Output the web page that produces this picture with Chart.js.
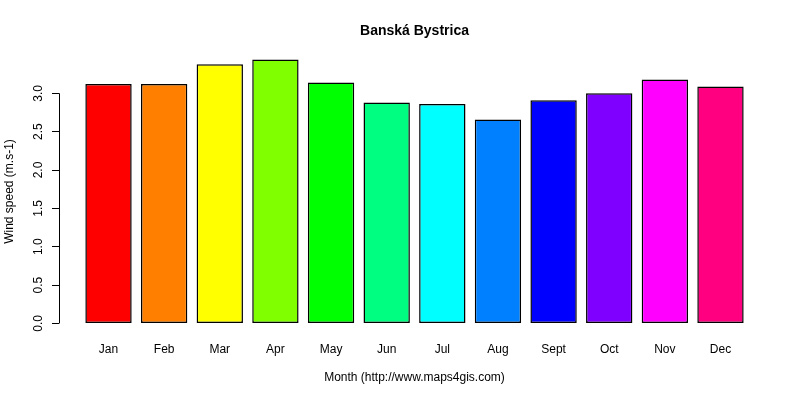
<!DOCTYPE html>
<html>
<head>
<meta charset="utf-8">
<script src="https://cdn.jsdelivr.net/npm/chart.js@4/dist/chart.umd.min.js"></script>
<style>
  html, body { margin: 0; padding: 0; background: #fff; }
  #wrap { width: 800px; height: 400px; }
</style>
</head>
<body>
<div id="wrap"><canvas id="windChart"></canvas></div>
<script>
const months = ['Jan', 'Feb', 'Mar', 'Apr', 'May', 'Jun', 'Jul', 'Aug', 'Sept', 'Oct', 'Nov', 'Dec'];
const windSpeed = [3.12, 3.12, 3.38, 3.44, 3.14, 2.88, 2.86, 2.66, 2.91, 3.00, 3.18, 3.09];
const barColors = ['#FF0000', '#FF8000', '#FFFF00', '#80FF00', '#00FF00', '#00FF80',
  '#00FFFF', '#0080FF', '#0000FF', '#8000FF', '#FF00FF', '#FF0080'];
const yTicks = [0, 0.5, 1, 1.5, 2, 2.5, 3];

// R barplot layout: bar width 1, gap 0.2, axes extended by 4%
const barCenters = months.map((m, i) => 0.7 + 1.2 * i);
const xSpan = 1.2 * months.length;
const xMin = 0.2 - 0.04 * (xSpan - 0.2);
const xMax = xSpan + 0.04 * (xSpan - 0.2);
const yTop = Math.max(...windSpeed);
const yMin = -0.04 * yTop;
const yMax = yTop * 1.04;

const font = 'Liberation Sans, Arial, sans-serif';

const rAxes = {
  id: 'rAxes',
  afterDraw(chart) {
    const ctx = chart.ctx;
    const y = chart.scales.y;
    const area = chart.chartArea;
    ctx.save();
    ctx.strokeStyle = '#000';
    ctx.lineWidth = 1;
    ctx.beginPath();
    ctx.moveTo(area.left + 0.5, y.getPixelForValue(yTicks[0]));
    ctx.lineTo(area.left + 0.5, y.getPixelForValue(yTicks[yTicks.length - 1]));
    ctx.stroke();
    ctx.fillStyle = '#000';
    ctx.font = 'bold 14px ' + font;
    ctx.textAlign = 'center';
    ctx.textBaseline = 'middle';
    ctx.fillText('Banská Bystrica', (area.left + area.right) / 2, 31);
    ctx.restore();
  }
};

const ctx = document.getElementById('windChart').getContext('2d');
new Chart(ctx, {
  type: 'bar',
  data: {
    datasets: [{
      label: 'Wind speed',
      data: windSpeed.map((v, i) => ({ x: barCenters[i], y: v })),
      backgroundColor: barColors,
      borderColor: '#000',
      borderWidth: 1.5,
      borderSkipped: false,
      barPercentage: 1 / 1.2,
      categoryPercentage: 1,
    }]
  },
  options: {
    responsive: true,
    maintainAspectRatio: false,
    animation: false,
    layout: { padding: { top: 49, right: 30, left: 0, bottom: 0 } },
    plugins: {
      legend: { display: false },
      tooltip: { enabled: false }
    },
    scales: {
      x: {
        type: 'linear',
        offset: false,
        min: xMin,
        max: xMax,
        grid: { display: false },
        border: { display: false },
        afterBuildTicks: (axis) => { axis.ticks = barCenters.map(v => ({ value: v })); },
        afterFit: (axis) => { axis.height = 66; },
        ticks: {
          color: '#000',
          font: { family: font, size: 12 },
          padding: 0,
          maxRotation: 0,
          autoSkip: false,
          callback: (value, index) => months[index]
        },
        title: {
          display: true,
          text: 'Month (http://www.maps4gis.com)',
          color: '#000',
          font: { family: font, size: 12 },
          padding: { top: 0, bottom: 15 }
        }
      },
      y: {
        min: yMin,
        max: yMax,
        grid: {
          display: true,
          drawOnChartArea: false,
          drawTicks: true,
          tickLength: 7,
          color: '#000'
        },
        border: { display: false },
        afterBuildTicks: (axis) => { axis.ticks = yTicks.map(v => ({ value: v })); },
        afterFit: (axis) => { axis.width = 59; },
        ticks: {
          color: '#000',
          font: { family: font, size: 12 },
          minRotation: 90,
          maxRotation: 90,
          crossAlign: 'center',
          padding: 5,
          callback: (value) => value.toFixed(1)
        },
        title: {
          display: true,
          text: 'Wind speed (m.s-1)',
          color: '#000',
          font: { family: font, size: 12 },
          padding: { top: 2, bottom: 0 }
        }
      }
    }
  },
  plugins: [rAxes]
});
</script>
</body>
</html>
